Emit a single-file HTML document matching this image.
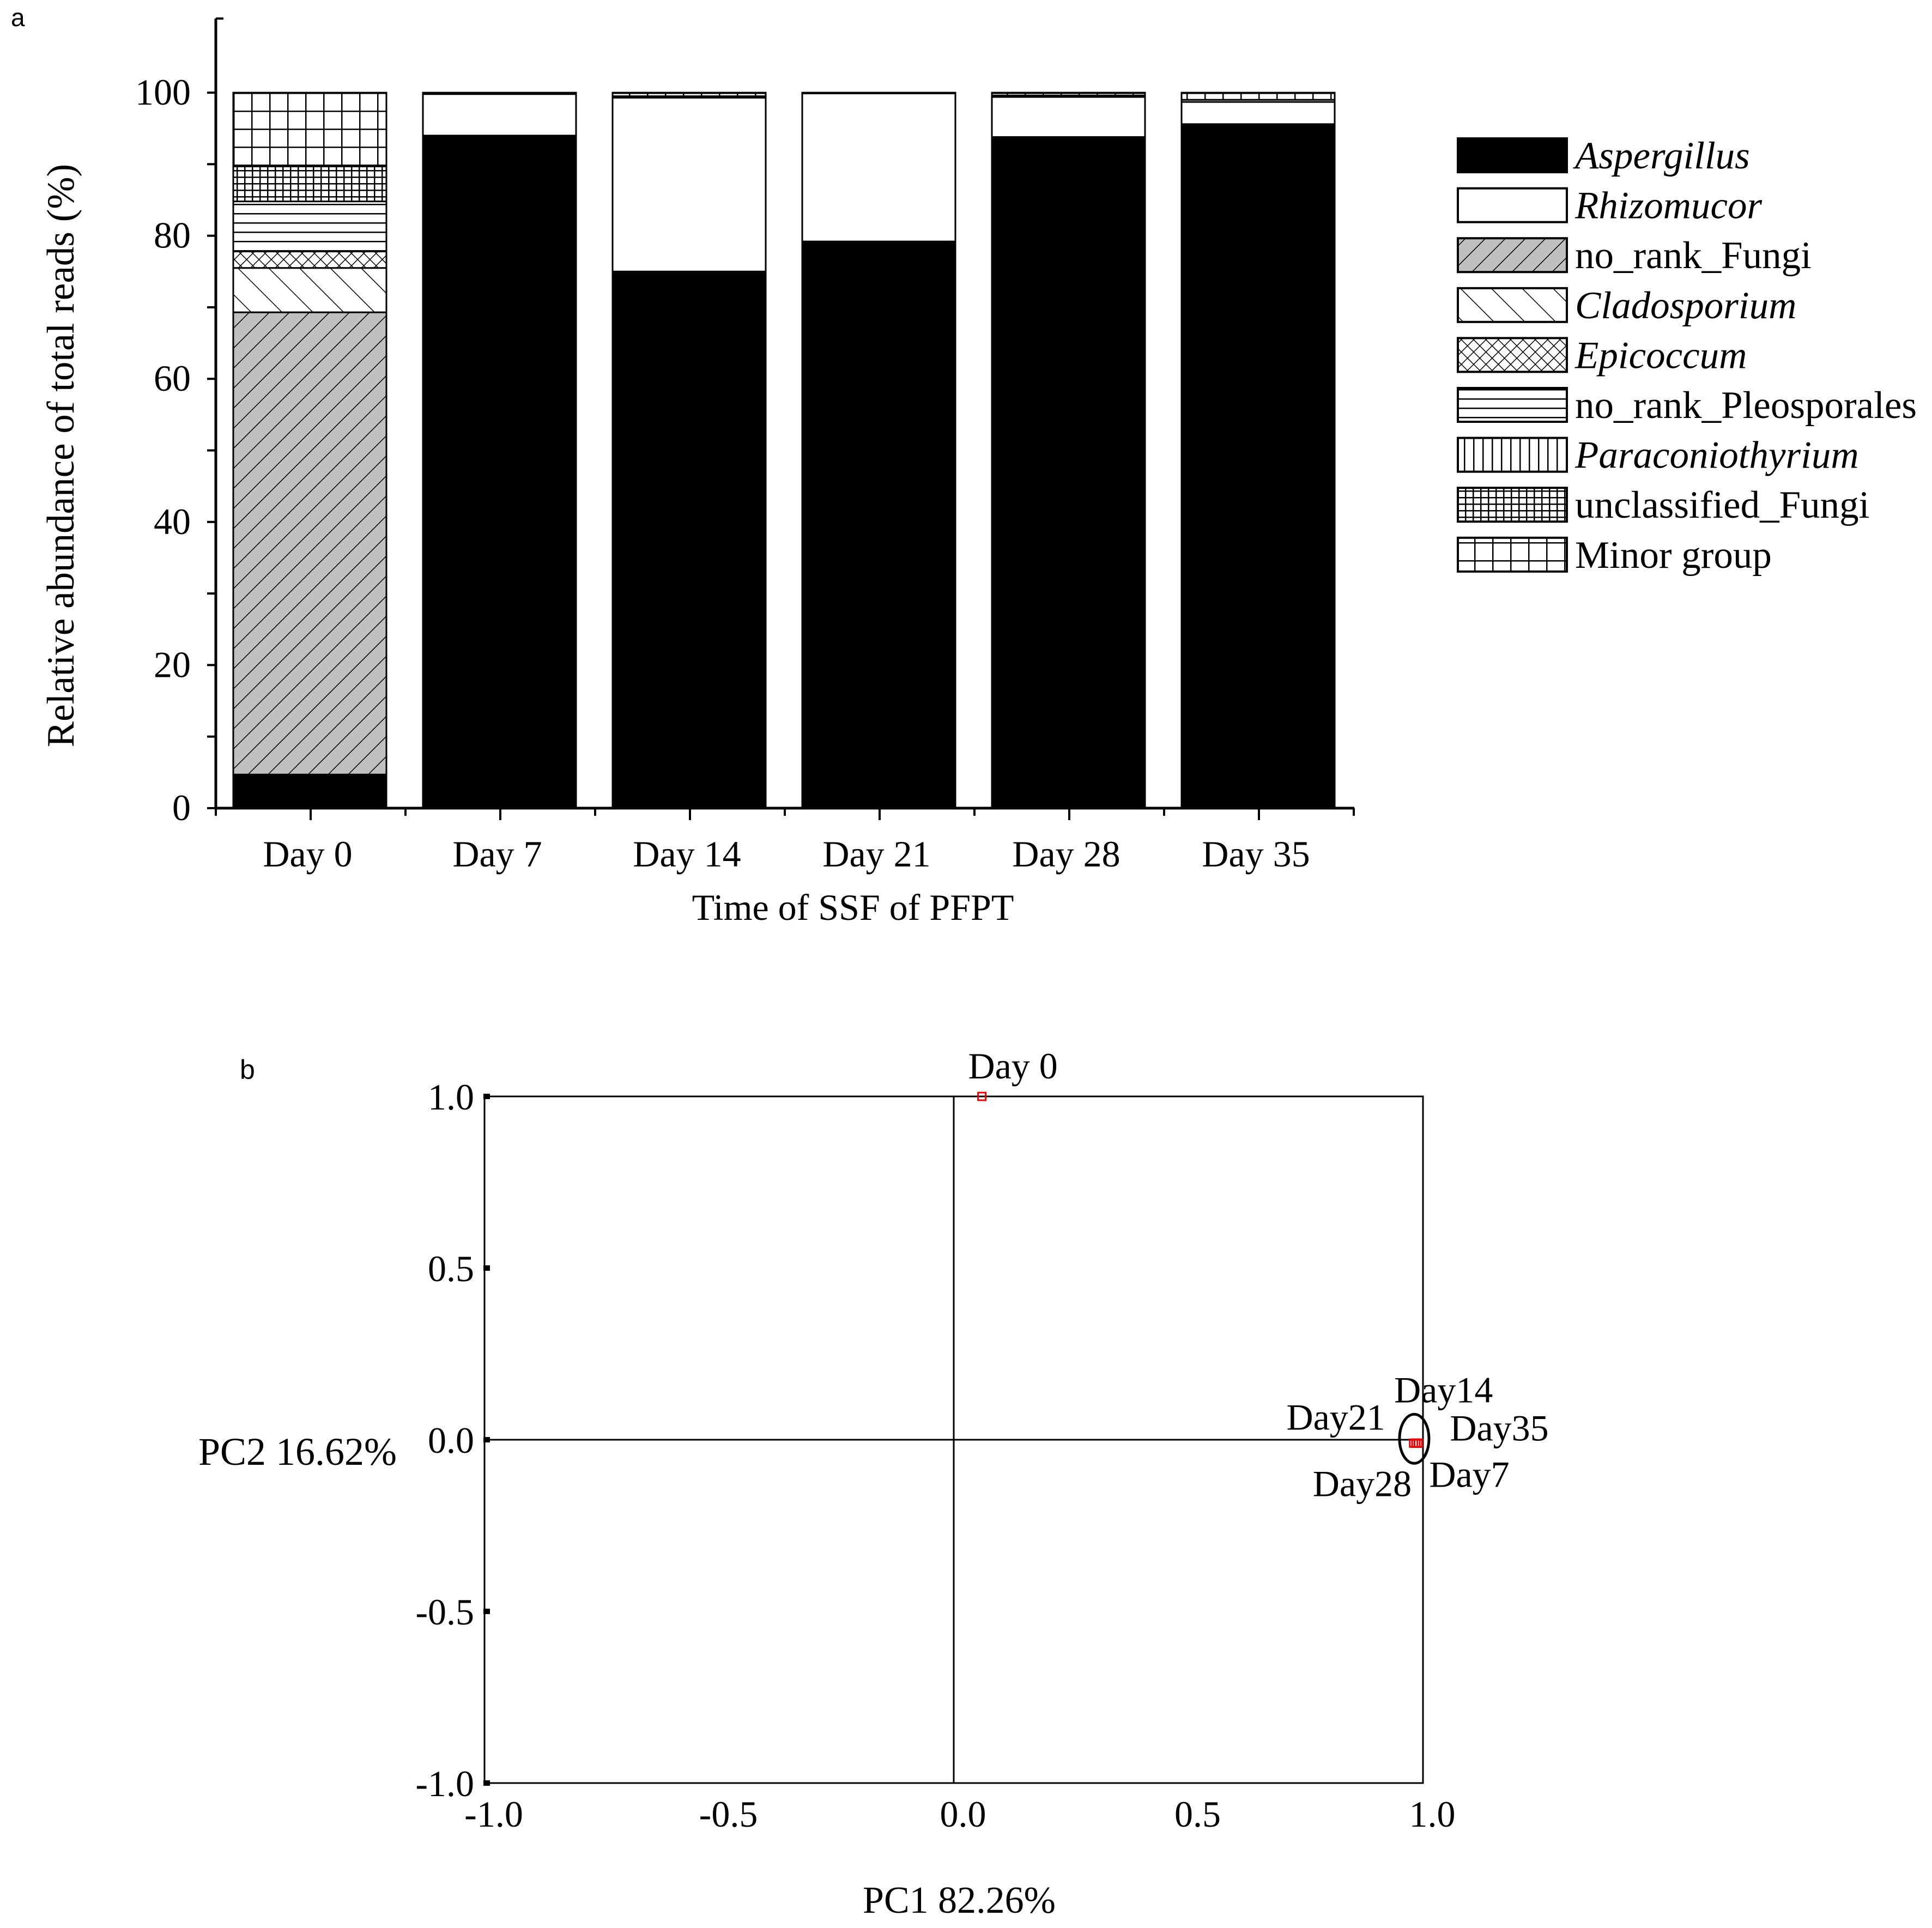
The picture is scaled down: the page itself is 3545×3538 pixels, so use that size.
<!DOCTYPE html>
<html><head><meta charset="utf-8"><style>
html,body{margin:0;padding:0;background:#fff;}
svg{display:block;font-family:"Liberation Serif",serif;}
</style></head><body>
<svg id="chart" width="3545" height="3538" viewBox="0 0 3545 3538">
<defs>
<pattern id="p-fungi" patternUnits="userSpaceOnUse" width="26" height="26" patternTransform="rotate(45)"><rect width="26" height="26" fill="#c0c0c0"/><line x1="0" y1="0" x2="0" y2="26" stroke="#000" stroke-width="3"/></pattern>
<pattern id="p-clado" patternUnits="userSpaceOnUse" width="40" height="40" patternTransform="rotate(-45)"><rect width="40" height="40" fill="#fff"/><line x1="0" y1="0" x2="0" y2="40" stroke="#000" stroke-width="3"/></pattern>
<pattern id="p-epi" patternUnits="userSpaceOnUse" width="16" height="16" patternTransform="rotate(45)"><rect width="16" height="16" fill="#fff"/><line x1="0" y1="0" x2="0" y2="16" stroke="#000" stroke-width="3"/><line x1="0" y1="0" x2="16" y2="0" stroke="#000" stroke-width="3"/></pattern>
<pattern id="p-pleo" patternUnits="userSpaceOnUse" width="20" height="17"><rect width="20" height="17" fill="#fff"/><line x1="0" y1="1" x2="20" y2="1" stroke="#000" stroke-width="3"/></pattern>
<pattern id="p-para" patternUnits="userSpaceOnUse" width="17" height="20"><rect width="17" height="20" fill="#fff"/><line x1="1" y1="0" x2="1" y2="20" stroke="#000" stroke-width="3"/></pattern>
<pattern id="p-uncl" patternUnits="userSpaceOnUse" width="14" height="12"><rect width="14" height="12" fill="#fff"/><line x1="1" y1="0" x2="1" y2="12" stroke="#000" stroke-width="3"/><line x1="0" y1="1" x2="14" y2="1" stroke="#000" stroke-width="3"/></pattern>
<pattern id="p-minor" patternUnits="userSpaceOnUse" width="33" height="33" x="428" y="170"><rect width="33" height="33" fill="#fff"/><line x1="1" y1="0" x2="1" y2="33" stroke="#000" stroke-width="3"/><line x1="0" y1="1" x2="33" y2="1" stroke="#000" stroke-width="3"/></pattern>
</defs>
<g id="a"></g>
<g id="b"></g>
</svg>
<script>
// ---- Panel a data ----
const days = ["Day 0","Day 7","Day 14","Day 21","Day 28","Day 35"];
const taxa = ["Aspergillus","Rhizomucor","no_rank_Fungi","Cladosporium","Epicoccum","no_rank_Pleosporales","Paraconiothyrium","unclassified_Fungi","Minor group"];
const italicTaxa = [true,true,false,true,true,false,true,false,false];
const aspergillus = [4.7, 94.0, 75.0, 79.2, 93.8, 95.6];
const rhizomucor = [0, 5.8, 24.3, 20.7, 5.6, 3.1];
const noRankFungi = [64.6, 0, 0, 0, 0, 0];
const cladosporium = [6.2, 0, 0, 0, 0, 0];
const epicoccum = [2.3, 0, 0, 0, 0, 0];
const pleosporales = [7.0, 0, 0.2, 0, 0.2, 0.3];
const paraconiothyrium = [0, 0, 0, 0, 0, 0];
const unclassified = [4.9, 0, 0, 0, 0, 0];
const minorGroup = [10.3, 0.2, 0.5, 0.1, 0.4, 1.0];
const yTicks = [0,20,40,60,80,100];
// ---- Panel b data ----
const samples = ["Day 0","Day14","Day21","Day35","Day7","Day28"];
const pc1 = [0.06, 0.985, 0.98, 0.99, 0.99, 0.985];
const pc2 = [1.0, -0.01, -0.01, -0.01, -0.01, -0.01];
const pcTicks = [-1.0,-0.5,0.0,0.5,1.0];
const pcTickLabels = ["-1.0","-0.5","0.0","0.5","1.0"];

const NS="http://www.w3.org/2000/svg";
function mk(parent, tag, attrs, text){const e=document.createElementNS(NS,tag);for(const k in attrs)e.setAttribute(k,attrs[k]);if(text!==undefined)e.textContent=text;parent.appendChild(e);return e;}

// ---- Panel a ----
const A=document.getElementById('a');
const series=[aspergillus,rhizomucor,noRankFungi,cladosporium,epicoccum,pleosporales,paraconiothyrium,unclassified,minorGroup];
const fills=["#000","#fff","url(#p-fungi)","url(#p-clado)","url(#p-epi)","url(#p-pleo)","url(#p-para)","url(#p-uncl)","url(#p-minor)"];
const ax0=396, ay0=1483, ay100=170;
const yS=v=>ay0-(ay0-ay100)*v/100;
const slot=348, barW=281, firstX=428;
const xS=i=>firstX+i*slot;
let t;
t=mk(A,'text',{x:20,y:48,'font-family':'Liberation Sans, sans-serif','font-size':46});t.textContent='a';

days.forEach((d,i)=>{
  let cum=0;
  series.forEach((s,k)=>{
    const v=s[i]; if(v<=0) return;
    const r=mk(A,'rect',{x:xS(i),y:yS(cum+v),width:barW,height:yS(cum)-yS(cum+v),fill:fills[k],stroke:'#000','stroke-width':3});
    
    
    cum+=v;
  });
  const lab=mk(A,'text',{x:xS(i)+barW/2-4,y:1590,'text-anchor':'middle','font-size':68},d);
  
});
let l=mk(A,'line',{x1:ax0,y1:34,x2:ax0,y2:ay0,stroke:'#000','stroke-width':5});

l=mk(A,'line',{x1:ax0,y1:ay0,x2:2485,y2:ay0,stroke:'#000','stroke-width':5});

mk(A,'line',{x1:ax0,y1:34,x2:ax0+14,y2:34,stroke:'#000','stroke-width':4});
for(let v=0;v<=100;v+=10){mk(A,'line',{x1:ax0-16,y1:yS(v),x2:ax0,y2:yS(v),stroke:'#000','stroke-width':4});}
yTicks.forEach(v=>{const e=mk(A,'text',{x:350,y:yS(v)+22,'text-anchor':'end','font-size':68},String(v));
  });
for(let j=0;j<=12;j++){const x=ax0+j*slot/2;mk(A,'line',{x1:x,y1:ay0,x2:x,y2:ay0+(j%2?22:14),stroke:'#000','stroke-width':4});}
t=mk(A,'text',{x:0,y:0,'text-anchor':'middle','font-size':71,transform:'translate(135,836) rotate(-90)'},'Relative abundance of total reads (%)');

t=mk(A,'text',{x:1565,y:1688,'text-anchor':'middle','font-size':68},'Time of SSF of PFPT');

taxa.forEach((n,k)=>{
  const y=254+k*91.6;
  const g=mk(A,'g',{});
  
  mk(g,'rect',{x:2675,y:y,width:200,height:62,fill:fills[k],stroke:'#000','stroke-width':4});
  const tx=mk(g,'text',{x:2890,y:y+55,'font-size':71},n);
  if(italicTaxa[k]) tx.setAttribute('font-style','italic');
});

// ---- Panel b ----
const B=document.getElementById('b');
const bx0=889,bx1=2611,by0=2012,by1=3272;
const px=v=>(bx0+bx1)/2+v*(bx1-bx0)/2;
const py=v=>(by0+by1)/2-v*(by1-by0)/2;
t=mk(B,'text',{x:440,y:1980,'font-family':'Liberation Sans, sans-serif','font-size':50},'b');

let fr=mk(B,'rect',{x:bx0,y:by0,width:bx1-bx0,height:by1-by0,fill:'none',stroke:'#000','stroke-width':3});

l=mk(B,'line',{x1:px(0),y1:by0,x2:px(0),y2:by1,stroke:'#000','stroke-width':3});

l=mk(B,'line',{x1:bx0,y1:py(0),x2:bx1,y2:py(0),stroke:'#000','stroke-width':3});

pcTicks.forEach((v,i)=>{
  mk(B,'rect',{x:bx0-2,y:py(v)-5,width:12,height:10,fill:'#000'});
  const e=mk(B,'text',{x:870,y:py(v)+24,'text-anchor':'end','font-size':68},pcTickLabels[i]);
  
  const f=mk(B,'text',{x:px(v)+17,y:3352,'text-anchor':'middle','font-size':68},pcTickLabels[i]);
  
});
t=mk(B,'text',{x:728,y:2688,'text-anchor':'end','font-size':72},'PC2 16.62%');

t=mk(B,'text',{x:1760,y:3510,'text-anchor':'middle','font-size':70},'PC1 82.26%');

// label offsets (style, not data)
const lblDx=[57,-40,-52,58,20,-8], lblDy=[-55,-97,-47,-27,58,75], lblAnchor=['middle','start','end','start','start','end'];
samples.forEach((s,i)=>{
  const cx=px(pc1[i]), cy=py(pc2[i]);
  const m=mk(B,'rect',{x:cx-7,y:cy-7,width:14,height:14,fill:'none',stroke:'#e00','stroke-width':3});
  
  
  const e=mk(B,'text',{x:cx+lblDx[i],y:cy+lblDy[i]+22,'text-anchor':lblAnchor[i],'font-size':68},s);
  
});
// cluster ellipse around late samples
const late=[1,2,3,4,5];
const ecx=late.reduce((a,i)=>a+px(pc1[i]),0)/late.length-4;
const ecy=late.reduce((a,i)=>a+py(pc2[i]),0)/late.length-8;
const el=mk(B,'ellipse',{cx:ecx,cy:ecy,rx:27,ry:45,fill:'none',stroke:'#000','stroke-width':5});

</script>
</body></html>
